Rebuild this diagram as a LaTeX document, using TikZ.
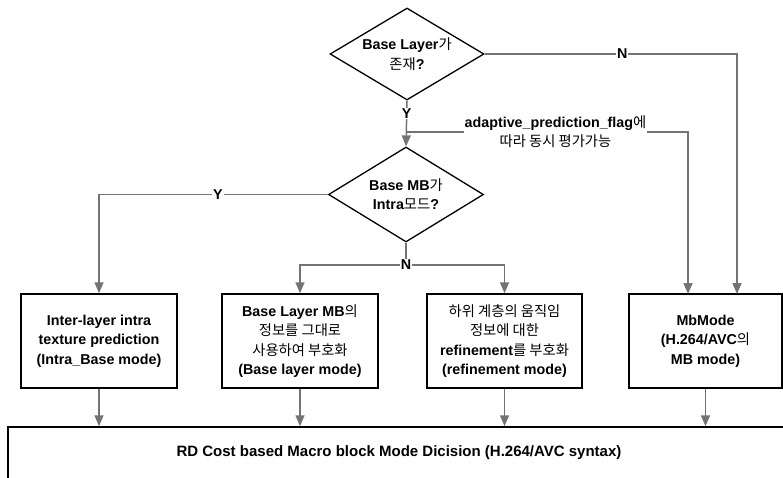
\documentclass[tikz,border=0pt]{standalone}
\usepackage{fontspec}
\setmainfont{Liberation Sans}
\newfontfamily\kofont{Noto Sans CJK KR}
\usepackage{tikz}
\usetikzlibrary{shapes.geometric,arrows.meta}
\newcommand{\ko}[1]{{\kofont\mdseries #1}}

\begin{document}
\begin{tikzpicture}[x=1pt,y=-1pt,
    every node/.style={font=\fontsize{14.3}{19.3}\selectfont\bfseries, align=center},
    box/.style={draw=black, line width=1.5pt, minimum width=156pt, minimum height=94pt, inner sep=0pt},
    choice/.style={draw=black, line width=1.3pt, shape=diamond, shape aspect=1.67, minimum width=154pt, minimum height=92pt, inner sep=0pt},
    conn/.style={draw=black!55, line width=1.5pt, -{Triangle[width=9pt,length=11pt]}},
    link/.style={draw=black!55, line width=1.5pt},
    lbl/.style={fill=white, inner sep=1pt}]
    \useasboundingbox (0,0) rectangle (783,478);
    \clip (0,0) rectangle (783,478);

    % decisions
    \node[choice] (layer) at (407,54) {Base Layer\ko{가}\\\ko{존재}?};
    \node[choice, minimum width=155pt, minimum height=95pt] (intra) at (406,194.5) {Base MB\ko{가}\\Intra\ko{모드}?};

    % modes
    \node[box] (ibase) at (99,341) {Inter-layer intra\\texture prediction\\(Intra\_Base mode)};
    \node[box] (blayer) at (300,341) {Base Layer MB\ko{의}\\\ko{정보를 그대로}\\\ko{사용하여 부호화}\\(Base layer mode)};
    \node[box, minimum width=155pt] (refine) at (504.5,341) {\ko{하위 계층의 움직임}\\\ko{정보에 대한}\\refinement\ko{를 부호화}\\(refinement mode)};
    \node[box, minimum width=153pt] (mbmode) at (705.5,341) {MbMode\\(H.264/AVC\ko{의}\\MB mode)};

    \node[draw=black, line width=1.5pt, minimum width=782pt, minimum height=52pt, inner sep=0pt,
        font=\fontsize{15}{18}\selectfont\bfseries] (rd) at (399,453)
        {RD Cost based Macro block Mode Dicision (H.264/AVC syntax)};

    \coordinate (mbL) at (688,294);
    \coordinate (mbR) at (737,294);
    \coordinate (flagjoin) at (406,132);
    \coordinate (njoin) at (406,265);

    % connectors
    \draw[conn] (layer.east) -- node[lbl,pos=0.545]{N} (layer.east -| mbR) -- (mbR);
    \draw[conn] (layer.south) -- node[lbl,pos=0.28]{Y} (intra.north);
    \draw[conn] (flagjoin) -- node[lbl,pos=0.53]{adaptive\_prediction\_flag\ko{에}\\\ko{따라 동시 평가가능}} (flagjoin -| mbL) -- (mbL);
    \draw[conn] (intra.west) -- node[lbl,pos=0.48]{Y} (intra.west -| ibase.north) -- (ibase.north);
    \draw[link] (intra.south) -- (njoin);
    \draw[conn] (njoin) -| (blayer.north);
    \draw[conn] (njoin) -| (refine.north);
    \node[lbl] (nlabel) at (njoin) {N};

    \foreach \b in {ibase,blayer,refine,mbmode}
        \draw[conn] (\b.south) -- (\b.south |- rd.north);
\end{tikzpicture}
\end{document}
